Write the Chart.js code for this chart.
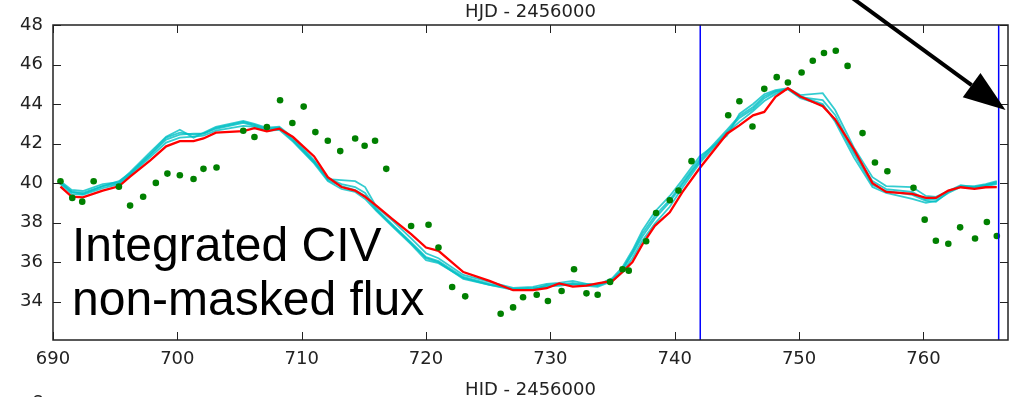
<!DOCTYPE html>
<html>
<head>
<meta charset="utf-8">
<script src="https://cdn.jsdelivr.net/npm/chart.js@4/dist/chart.umd.min.js"></script>
<style>
  html, body { margin: 0; padding: 0; background: #fff; overflow: hidden; }
  #wrap { position: relative; width: 1012px; height: 397px; }
</style>
</head>
<body>
<div id="wrap"><canvas id="fluxChart"></canvas></div>
<script>
// model time grid shared by the smoothed curves
const lineX = [690.6, 691.5, 692.4, 694.0, 695.3, 696.2, 697.8, 699.1, 700.2, 701.3, 702.1, 703.1,
  705.3, 706.2, 707.2, 708.2, 709.3, 711.0, 712.1, 713.2, 714.3, 715.1, 716.0, 717.3, 718.8,
  720.0, 721.0, 723.0, 725.1, 727.0, 728.6, 729.7, 730.7, 731.8, 732.9, 733.8, 735.0, 735.8,
  736.6, 737.4, 738.4, 739.6, 740.6, 742.0, 744.2, 745.2, 746.3, 747.2, 748.1, 749.1, 750.1,
  751.9, 752.9, 754.4, 755.9, 757.0, 759.1, 760.2, 761.0, 762.0, 763.0, 764.1, 765.0, 765.9];

const redY = [39.82, 39.31, 39.28, 39.62, 39.84, 40.33, 41.14, 41.86, 42.12, 42.12, 42.26, 42.55,
  42.63, 42.78, 42.62, 42.75, 42.33, 41.35, 40.30, 39.80, 39.62, 39.31, 38.86, 38.18, 37.42,
  36.74, 36.57, 35.50, 35.05, 34.58, 34.58, 34.68, 34.92, 34.76, 34.81, 34.93, 35.05, 35.50,
  36.00, 36.90, 37.84, 38.52, 39.53, 40.75, 42.50, 42.92, 43.43, 43.60, 44.36, 44.80, 44.38,
  43.89, 43.22, 41.72, 40.00, 39.55, 39.45, 39.25, 39.25, 39.62, 39.79, 39.71, 39.79, 39.80];

const cyanY1 = [40.10, 39.65, 39.60, 39.95, 40.05, 40.55, 41.55, 42.35, 42.70, 42.30, 42.55, 42.85,
  43.15, 43.00, 42.80, 42.85, 42.30, 41.15, 40.20, 40.15, 40.10, 39.80, 38.80, 38.10, 37.20,
  36.45, 36.20, 35.35, 35.00, 34.70, 34.75, 34.90, 34.95, 35.05, 34.90, 34.85, 35.20, 35.75,
  36.60, 37.60, 38.55, 39.35, 40.15, 41.35, 42.40, 43.50, 44.00, 44.50, 44.70, 44.80, 44.45,
  44.55, 43.70, 41.80, 40.30, 39.85, 39.80, 39.35, 39.30, 39.60, 39.85, 39.85, 39.95, 40.10];

const cyanY2 = [40.00, 39.55, 39.45, 39.85, 40.00, 40.45, 41.40, 42.20, 42.45, 42.50, 42.50, 42.75,
  43.05, 42.90, 42.70, 42.80, 42.15, 41.05, 40.25, 39.95, 39.80, 39.50, 38.70, 37.90, 37.00,
  36.25, 36.05, 35.25, 34.90, 34.65, 34.70, 34.75, 34.85, 34.95, 34.85, 34.80, 35.10, 35.60,
  36.40, 37.30, 38.20, 39.05, 39.90, 41.10, 42.60, 43.30, 43.75, 44.30, 44.60, 44.75, 44.30,
  43.95, 43.20, 41.50, 39.90, 39.60, 39.40, 39.10, 39.05, 39.55, 39.85, 39.80, 39.90, 40.00];

const cyanY3 = [39.95, 39.45, 39.40, 39.75, 39.95, 40.40, 41.30, 42.05, 42.30, 42.35, 42.40, 42.65,
  42.90, 42.85, 42.65, 42.70, 42.10, 41.00, 40.10, 39.70, 39.55, 39.20, 38.60, 37.80, 36.90,
  36.10, 35.95, 35.20, 34.85, 34.60, 34.65, 34.80, 34.80, 34.90, 34.80, 34.75, 35.05, 35.50,
  36.20, 37.10, 37.95, 38.80, 39.75, 41.00, 42.55, 43.10, 43.65, 44.15, 44.50, 44.78, 44.40,
  44.00, 43.10, 41.30, 39.80, 39.50, 39.20, 39.00, 39.10, 39.50, 39.80, 39.75, 39.85, 39.95];

const cyanY4 = [40.05, 39.55, 39.50, 39.85, 40.10, 40.50, 41.45, 42.30, 42.55, 42.45, 42.50, 42.80,
  43.10, 42.95, 42.75, 42.80, 42.20, 41.10, 40.15, 39.85, 39.65, 39.35, 38.65, 37.85, 36.95,
  36.20, 36.00, 35.15, 34.85, 34.65, 34.60, 34.85, 34.90, 34.85, 34.90, 34.85, 35.15, 35.65,
  36.50, 37.45, 38.35, 39.15, 40.00, 41.20, 42.70, 43.40, 43.85, 44.40, 44.65, 44.75, 44.35,
  44.20, 43.45, 41.60, 40.10, 39.70, 39.55, 39.15, 39.20, 39.60, 39.90, 39.80, 39.90, 40.05];

// observed integrated flux
const dotX = [690.6, 691.55, 692.35, 693.27, 695.3, 696.2, 697.25, 698.27, 699.2, 700.2, 701.3,
  702.1, 703.15, 705.3, 706.2, 707.2, 708.26, 709.25, 710.16, 711.1, 712.1, 713.1, 714.3, 715.06,
  715.9, 716.8, 718.8, 720.2, 721.0, 722.1, 723.15, 726.0, 727.0, 727.8, 728.9, 729.8, 730.9,
  731.9, 732.9, 733.8, 734.8, 735.8, 736.3, 737.7, 738.5, 739.6, 740.3, 741.35, 744.3, 745.2,
  746.25, 747.2, 748.2, 749.1, 750.2, 751.1, 752.0, 752.95, 753.9, 755.1, 756.1, 757.1, 759.2,
  760.1, 761.0, 762.0, 762.95, 764.15, 765.1, 765.9];
const dotY = [40.09, 39.25, 39.06, 40.09, 39.82, 38.86, 39.31, 40.01, 40.48, 40.40, 40.21,
  40.72, 40.79, 42.65, 42.33, 42.84, 44.19, 43.04, 43.87, 42.58, 42.14, 41.62, 42.26, 41.89,
  42.14, 40.72, 37.83, 37.89, 36.74, 34.74, 34.27, 33.39, 33.71, 34.22, 34.35, 34.03, 34.54,
  35.64, 34.42, 34.35, 35.00, 35.64, 35.57, 37.06, 38.49, 39.13, 39.62, 41.11, 43.43, 44.14,
  42.86, 44.77, 45.36, 45.09, 45.60, 46.19, 46.58, 46.70, 45.93, 42.53, 41.04, 40.60, 39.76,
  38.15, 37.08, 36.93, 37.76, 37.20, 38.03, 37.32];

const markerX = [742.05, 766.05];
const xTicks = [690, 700, 710, 720, 730, 740, 750, 760];
const yTicks = [34, 36, 38, 40, 42, 44, 46, 48];
const X_MIN = 690, X_MAX = 766.8, Y_MIN = 32.06, Y_MAX = 48;

const pts = (xs, ys) => xs.map((x, i) => ({ x: x, y: ys[i] }));
const vline = (x) => [{ x: x, y: Y_MIN }, { x: x, y: Y_MAX }];

const CYAN = 'rgba(0, 191, 196, 0.8)';

function cyanSet(ys) {
  return { type: 'line', data: pts(lineX, ys), borderColor: CYAN, borderWidth: 1.8,
    pointRadius: 0, tension: 0, fill: false };
}

// frame, inward ticks, axis titles, label and arrow
const decorPlugin = {
  id: 'decor',
  afterDatasetsDraw(chart) {
    const { ctx, chartArea: a, scales } = chart;
    const sx = scales.x, sy = scales.y;
    ctx.save();
    ctx.strokeStyle = '#222';
    ctx.lineWidth = 1;
    ctx.beginPath();
    xTicks.forEach(v => {
      const px = Math.round(sx.getPixelForValue(v)) + 0.5;
      ctx.moveTo(px, a.bottom); ctx.lineTo(px, a.bottom - 8);
      ctx.moveTo(px, a.top); ctx.lineTo(px, a.top + 8);
    });
    yTicks.forEach(v => {
      const py = Math.round(sy.getPixelForValue(v)) + 0.5;
      ctx.moveTo(a.left, py); ctx.lineTo(a.left + 8, py);
      ctx.moveTo(a.right, py); ctx.lineTo(a.right - 8, py);
    });
    ctx.stroke();
    ctx.lineWidth = 1.5;
    ctx.strokeRect(a.left, a.top, a.right - a.left, a.bottom - a.top);

    // axis titles
    ctx.fillStyle = '#222';
    ctx.font = '18px "DejaVu Sans"';
    ctx.textAlign = 'center';
    ctx.textBaseline = 'alphabetic';
    const cx = (a.left + a.right) / 2;
    ctx.fillText('HJD - 2456000', cx, 17);
    ctx.fillText('HID - 2456000', cx, 395);
    ctx.fillText('8', 38, 408);

    // panel label
    ctx.fillStyle = '#000';
    ctx.font = '48px "Liberation Sans"';
    ctx.textAlign = 'left';
    ctx.fillText('Integrated CIV', 72, 261);
    ctx.fillText('non-masked flux', 72, 315);

    // arrow
    const tx = sx.getPixelForValue(766.6), ty = sy.getPixelForValue(43.7);
    const fx = sx.getPixelForValue(754.1), fy = sy.getPixelForValue(49.45);
    const ang = Math.atan2(ty - fy, tx - fx);
    const headLen = 42, headW = 15;
    const bx = tx - headLen * Math.cos(ang), by = ty - headLen * Math.sin(ang);
    ctx.strokeStyle = '#000';
    ctx.lineWidth = 4;
    ctx.beginPath();
    ctx.moveTo(fx, fy); ctx.lineTo(bx, by);
    ctx.stroke();
    ctx.fillStyle = '#000';
    ctx.beginPath();
    ctx.moveTo(tx, ty);
    ctx.lineTo(bx + headW * Math.sin(ang), by - headW * Math.cos(ang));
    ctx.lineTo(bx - headW * Math.sin(ang), by + headW * Math.cos(ang));
    ctx.closePath();
    ctx.fill();
    ctx.restore();
  }
};

Chart.defaults.font.family = '"DejaVu Sans"';
Chart.defaults.animation = false;

new Chart(document.getElementById('fluxChart'), {
  data: {
    datasets: [
      { type: 'line', data: vline(markerX[0]), borderColor: '#0000ff', borderWidth: 1.5, pointRadius: 0 },
      { type: 'line', data: vline(markerX[1]), borderColor: '#0000ff', borderWidth: 1.5, pointRadius: 0 },
      { type: 'scatter', data: pts(dotX, dotY), backgroundColor: '#008000', borderWidth: 0, pointRadius: 3.3 },
      { type: 'line', data: pts(lineX, redY), borderColor: '#ff0000', borderWidth: 2.3, pointRadius: 0, tension: 0 },
      cyanSet(cyanY1),
      cyanSet(cyanY2),
      cyanSet(cyanY3),
      cyanSet(cyanY4),
    ],
  },
  options: {
    responsive: true,
    maintainAspectRatio: false,
    layout: { padding: { left: 0, right: 1, top: 25, bottom: 0 } },
    plugins: { legend: { display: false }, tooltip: { enabled: false } },
    scales: {
      x: {
        type: 'linear', min: X_MIN, max: X_MAX,
        grid: { display: false, drawTicks: false },
        border: { display: false },
        afterFit: (s) => { s.height = 57; },
        ticks: { stepSize: 10, includeBounds: false, padding: 9, color: '#222',
          font: { size: 18 }, maxRotation: 0, autoSkip: false },
      },
      y: {
        type: 'linear', min: Y_MIN, max: Y_MAX,
        grid: { display: false, drawTicks: false },
        border: { display: false },
        afterFit: (s) => { s.width = 53; },
        ticks: { stepSize: 2, includeBounds: false, padding: 10, color: '#222',
          font: { size: 18 } },
      },
    },
  },
  plugins: [decorPlugin],
});
</script>
</body>
</html>
